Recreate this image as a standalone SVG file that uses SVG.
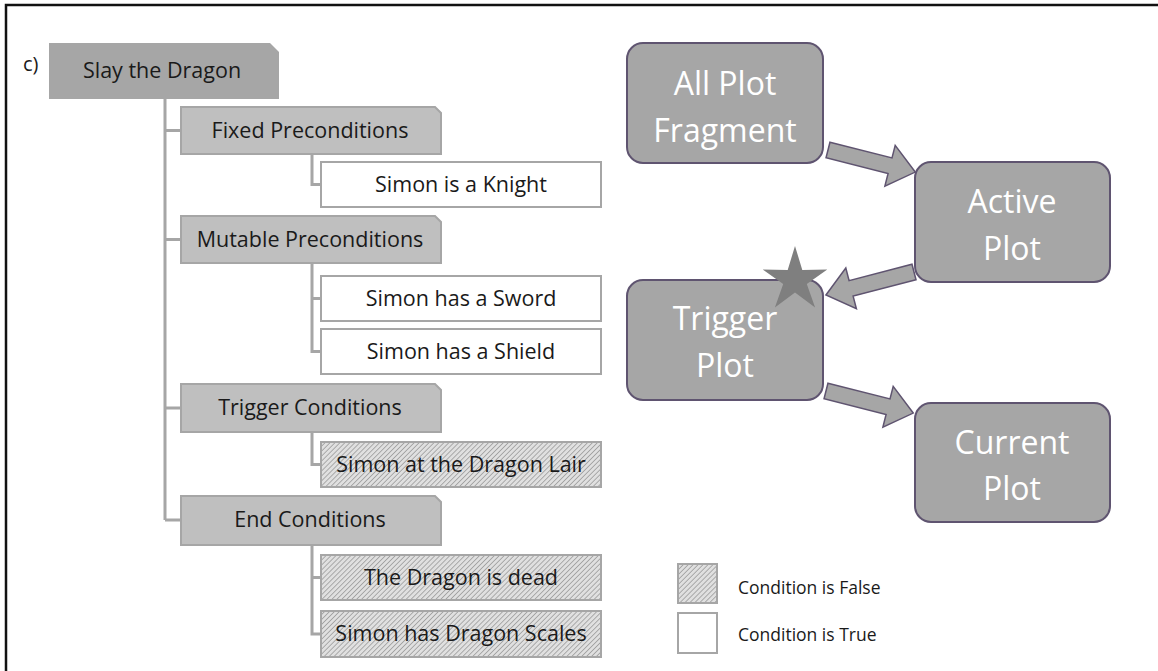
<svg xmlns="http://www.w3.org/2000/svg" width="1158" height="671" viewBox="0 0 1158 671">
<style>
.t{font-family:"Open Sans","Noto Sans",sans-serif;font-weight:500;font-size:21.5px;fill:#1a1a1a;text-anchor:middle}
.c{font-family:"Open Sans","Noto Sans",sans-serif;font-size:20px;fill:#1a1a1a}
.l1{fill:#bfbfbf;stroke:#a6a6a6;stroke-width:2}
.root{fill:#a6a6a6;stroke:none}
.l2{fill:#ffffff;stroke:#a6a6a6;stroke-width:2}
.f{fill:url(#hatch);stroke:#a6a6a6;stroke-width:2}
.con{fill:none;stroke:#a6a6a6;stroke-width:3}
.pb{fill:#a6a6a6;stroke:#5f5470;stroke-width:2}
.pt{font-family:"Open Sans","Noto Sans",sans-serif;font-size:32px;fill:#ffffff;text-anchor:middle}
.ar{fill:#a6a6a6;stroke:#5f5470;stroke-width:1.5}
.lg{font-family:"Open Sans","Noto Sans",sans-serif;font-size:17.5px;fill:#1a1a1a}
</style>
<defs>
<pattern id="hatch" patternUnits="userSpaceOnUse" width="3.5" height="3.5" patternTransform="rotate(45)">
<rect width="3.5" height="3.5" fill="#e0e0e0"/>
<line x1="0" y1="0" x2="0" y2="3.5" stroke="#858585" stroke-width="1.2"/>
</pattern>
</defs>
<rect width="1158" height="671" fill="#ffffff"/>
<polyline points="6,671 6,5 1158,5" fill="none" stroke="#111" stroke-width="2.5"/>
<text x="23" y="71" class="c">c)</text>

<g id="connectors">
<path class="con" d="M165 99 V520 M165 130.5 H181 M165 239.5 H181 M165 408 H181 M165 520 H181"/>
<path class="con" d="M312 154 V184.5 H321"/>
<path class="con" d="M312 263 V351.5 H321 M312 298.5 H321"/>
<path class="con" d="M312 432 V464.5 H321"/>
<path class="con" d="M312 545 V634 H321 M312 577.5 H321"/>
<g id="arrows">
<polygon class="ar" transform="translate(828,150) rotate(14.2)" points="0,-8 64,-8 64,-21 90,0 64,21 64,8 0,8"/>
<polygon class="ar" transform="translate(914,272) rotate(165.4)" points="0,-8 65,-8 65,-21 91,0 65,21 65,8 0,8"/>
<polygon class="ar" transform="translate(826,391) rotate(14.2)" points="0,-8 64,-8 64,-21 90,0 64,21 64,8 0,8"/>
</g>
</g>

<g id="slay">
<polygon class="root" points="49,43 270,43 279,52 279,99 49,99"/>
<text x="162" y="78" class="t">Slay the Dragon</text>
</g>
<g id="fixed">
<polygon class="l1" points="181,107 435,107 441,113 441,154 181,154"/>
<text x="310" y="138" class="t">Fixed Preconditions</text>
</g>
<g id="knight">
<rect class="l2" x="321" y="162" width="280" height="45"/>
<text x="461" y="192" class="t">Simon is a Knight</text>
</g>
<g id="mutable">
<polygon class="l1" points="181,216 435,216 441,222 441,263 181,263"/>
<text x="310" y="247" class="t">Mutable Preconditions</text>
</g>
<g id="sword">
<rect class="l2" x="321" y="276" width="280" height="45"/>
<text x="461" y="306" class="t">Simon has a Sword</text>
</g>
<g id="shield">
<rect class="l2" x="321" y="329" width="280" height="45"/>
<text x="461" y="359" class="t">Simon has a Shield</text>
</g>
<g id="trigger">
<polygon class="l1" points="181,384 435,384 441,390 441,432 181,432"/>
<text x="310" y="415" class="t">Trigger Conditions</text>
</g>
<g id="lair">
<rect class="f" x="321" y="442" width="280" height="45"/>
<text x="461" y="472" class="t">Simon at the Dragon Lair</text>
</g>
<g id="end">
<polygon class="l1" points="181,496 435,496 441,502 441,545 181,545"/>
<text x="310" y="527" class="t">End Conditions</text>
</g>
<g id="dead">
<rect class="f" x="321" y="555" width="280" height="45"/>
<text x="461" y="585" class="t">The Dragon is dead</text>
</g>
<g id="scales">
<rect class="f" x="321" y="611" width="280" height="46"/>
<text x="461" y="641" class="t">Simon has Dragon Scales</text>
</g>

<g id="allplot">
<rect class="pb" x="627" y="43" width="196" height="120" rx="16"/>
<text x="725" y="95" class="pt">All Plot</text>
<text x="725" y="142" class="pt">Fragment</text>
</g>
<g id="active">
<rect class="pb" x="915" y="162" width="195" height="120" rx="16"/>
<text x="1012" y="213" class="pt">Active</text>
<text x="1012" y="260" class="pt">Plot</text>
</g>
<g id="triggerplot">
<rect class="pb" x="627" y="280" width="196" height="120" rx="16"/>
<text x="725" y="330" class="pt">Trigger</text>
<text x="725" y="377" class="pt">Plot</text>
</g>
<g id="star">
<polygon fill="#7f7f7f" points="795,246 802.3,269.9 827.3,269.5 806.8,283.9 815.1,307.6 795,292.6 774.9,307.6 783.2,283.9 762.7,269.5 787.7,269.9"/>
</g>
<g id="current">
<rect class="pb" x="915" y="403" width="195" height="119" rx="16"/>
<text x="1012" y="454" class="pt">Current</text>
<text x="1012" y="500" class="pt">Plot</text>
</g>

<g id="legend">
<rect class="f" x="678" y="564" width="39" height="39"/>
<text x="738" y="594" class="lg">Condition is False</text>
<rect class="l2" x="678" y="613" width="39" height="40"/>
<text x="738" y="641" class="lg">Condition is True</text>
</g>
</svg>
